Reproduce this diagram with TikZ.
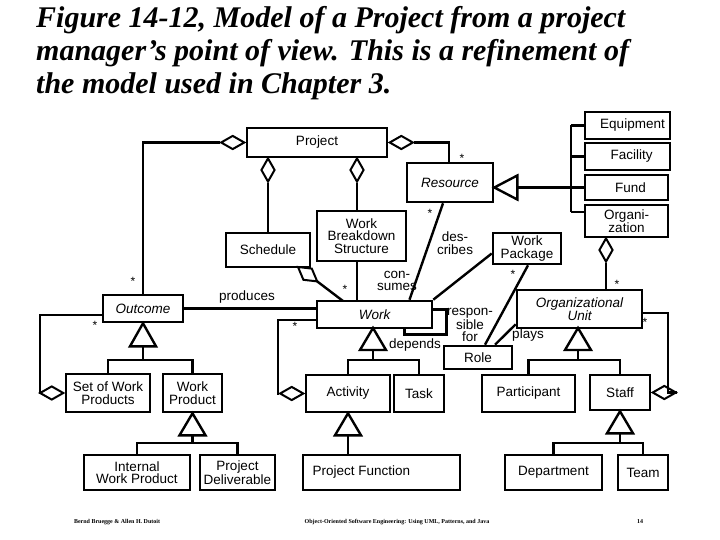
\documentclass[tikz,border=0pt]{standalone}
\usepackage{fontspec}
\setmainfont{Liberation Sans}
\newfontfamily\titlefont{Liberation Serif}
\usetikzlibrary{shapes.geometric,calc}
\begin{document}
\begin{tikzpicture}[x=1pt,y=-1pt,line width=2.4pt,
  box/.style={draw,line width=2.6pt,inner sep=0pt,align=center,font=\fontsize{13.5}{12.5}\selectfont},
  lbl/.style={inner sep=0pt,align=center,font=\fontsize{13.5}{12.5}\selectfont},
  mult/.style={inner sep=0pt,font=\fontsize{12}{12}\selectfont},
  dh/.style={diamond,draw,fill=white,line width=2pt,inner sep=0pt,minimum width=24pt,minimum height=14pt},
  dv/.style={diamond,draw,fill=white,line width=2pt,inner sep=0pt,minimum width=14pt,minimum height=24pt},
  tri/.style={draw,fill=white,line width=2.4pt,line join=miter}]
\useasboundingbox (0,0) rectangle (720,540);
% title
\node[anchor=north west,inner sep=0pt,align=left,font=\titlefont\bfseries\itshape\fontsize{30}{33}\selectfont] (title) at (35,5)
 {Figure 14-12, Model of a Project from a project\\manager’s point of view. This is a refinement of\\the model used in Chapter 3.};
% boxes
\node[box,minimum width=140pt,minimum height=29pt] (project) at (317,142.5) {Project};
\node[box,minimum width=85pt,minimum height=27pt] (equipment) at (627.5,125.5) {\hspace*{10pt}Equipment};
\node[box,minimum width=85pt,minimum height=27pt] (facility) at (627.5,156.5) {\hspace*{8pt}Facility};
\node[box,minimum width=83pt,minimum height=25pt] (fund) at (626.5,187.5) {\hspace*{8pt}Fund};
\node[box,minimum width=83pt,minimum height=32pt] (organization) at (626.5,221) {Organi-\\zation};
\node[box,minimum width=86pt,minimum height=39pt,font=\fontsize{13.5}{12.5}\selectfont\itshape] (resource) at (450,182.5) {Resource};
\node[box,minimum width=84pt,minimum height=34pt] (schedule) at (268,250) {\raisebox{-4pt}{Schedule}};
\node[box,minimum width=89pt,minimum height=50pt] (wbs) at (361.5,236) {Work\\Breakdown\\Structure};
\node[box,minimum width=115pt,minimum height=27pt,font=\fontsize{13.5}{12.5}\selectfont\itshape] (work) at (374.5,314.5) {Work};
\node[box,minimum width=80pt,minimum height=27pt,font=\fontsize{13.5}{12.5}\selectfont\itshape] (outcome) at (143,308.5) {Outcome};
\node[box,minimum width=84pt,minimum height=38pt] (setwp) at (108,393) {Set of Work\\Products};
\node[box,minimum width=59pt,minimum height=38pt] (workproduct) at (192.5,393) {Work\\Product};
\node[box,minimum width=106pt,minimum height=35pt] (iwp) at (137,472.5) {Internal\\Work Product};
\node[box,minimum width=75pt,minimum height=35pt] (pd) at (237.5,472.5) {Project\\Deliverable};
\node[box,minimum width=84pt,minimum height=37pt] (activity) at (348,393.5) {Activity};
\node[box,minimum width=50pt,minimum height=37pt] (task) at (419,393.5) {Task};
\node[box,minimum width=157pt,minimum height=35pt] (pf) at (381.5,472.5) {Project Function\hspace*{40pt}};
\node[box,minimum width=68pt,minimum height=23pt] (role) at (478,357.5) {Role};
\node[box,minimum width=68pt,minimum height=31pt] (wp) at (527,248.5) {Work\\Package};
\node[box,minimum width=125pt,minimum height=38pt,font=\fontsize{13.5}{12.5}\selectfont\itshape] (ou) at (579.5,309) {Organizational\\Unit};
\node[box,minimum width=93pt,minimum height=37pt] (participant) at (528.5,393.5) {Participant};
\node[box,minimum width=60pt,minimum height=35pt] (staff) at (620,392.5) {Staff};
\node[box,minimum width=97pt,minimum height=35pt] (department) at (553.5,472.5) {Department};
\node[box,minimum width=50pt,minimum height=35pt] (team) at (643,472.5) {Team};
% aggregations
\node[dh,anchor=west] (dR) at (project.east) {};
\draw (dR.east) -| ([xshift=-1pt]resource.north);
\node[dh,anchor=east] (dO) at (project.west) {};
\draw (dO.west) -| (outcome.north);
\node[dv,anchor=north] (dS) at (268,157) {};
\draw (dS.south) -- (dS.south |- schedule.north);
\node[dv,anchor=north] (dW) at (357,157) {};
\draw (dW.south) -- (dW.south |- wbs.north);
\draw (357,261) -- (357,301);
\coordinate (dSc) at (317.2,281.4);
\draw (dSc) -- (343,301);
\draw[fill=white,line width=2pt,line join=miter] (298,267) -- (303.4,279.8) -- (dSc) -- (311.8,268.6) -- cycle;
\node[dh,anchor=east] (dA) at (activity.west) {};
\draw (dA.west) -| (278,320) -- (work.west |- 0,320);
\node[dh,anchor=east] (dSW) at (setwp.west) {};
\draw (dSW.west) -| (40,315) -- (outcome.west |- 0,315);
\node[dh,anchor=west] (dSt) at (staff.east) {};
\draw (dSt.east) -| (668,313) -- (ou.east |- 0,313);
\node[dv,anchor=north] (dOrg) at (606,237) {};
\draw (dOrg.south) -- (dOrg.south |- ou.north);
% resource generalization
\draw (571,125.5) -- (equipment.west);
\draw (571,156.5) -- (facility.west);
\draw (571,212) -- (organization.west |- 0,212);
\draw (571,125.5) -- (571,212);
\coordinate (tR) at (resource.east |- fund.west);
\draw ([xshift=23pt]tR) -- (fund.west);
\draw[tri] (tR) -- ++(23,-12) -- ++(0,24) -- cycle;
% generalizations
\coordinate (tOut) at (outcome.south);
\draw (tOut) ++(0,23) -- (143,360);
\draw (setwp.north) |- (workproduct.north |- 0,360) -- (workproduct.north);
\draw[tri] (tOut) -- ++(-13,23) -- ++(26,0) -- cycle;
\coordinate (tWP) at (workproduct.south);
\draw (tWP) ++(0,22) -- (192.5,443);
\draw (iwp.north) |- (pd.north |- 0,443) -- (pd.north);
\draw[tri] (tWP) -- ++(-13,22) -- ++(26,0) -- cycle;
\coordinate (tWk) at (373,328);
\draw (373,350) -- (373,360);
\draw (activity.north) |- (task.north |- 0,360) -- (task.north);
\draw[tri] (tWk) -- ++(-13,22) -- ++(26,0) -- cycle;
\coordinate (tAc) at (activity.south);
\draw (tAc) ++(0,22) -- (pf.north -| activity.south);
\draw[tri] (tAc) -- ++(-13,22) -- ++(26,0) -- cycle;
\coordinate (tOU) at (578,328);
\draw (578,350) -- (578,360);
\draw (participant.north) |- (staff.north |- 0,360) -- (staff.north);
\draw[tri] (tOU) -- ++(-13,22) -- ++(26,0) -- cycle;
\coordinate (tSt) at (staff.south);
\draw (tSt) ++(0,22) -- (620,443);
\draw (department.north) |- (team.north |- 0,443) -- (team.north);
\draw[tri] (tSt) -- ++(-13,22) -- ++(26,0) -- cycle;
% associations
\draw ([xshift=-7pt]resource.south) -- ([xshift=35pt]work.north);
\draw (work.north east) -- ([yshift=-5pt]wp.west);
\draw ([xshift=1pt]wp.south) -- ([xshift=7pt]role.north);
\draw ([xshift=17pt]role.north) -- ([yshift=5pt]ou.south west);
\draw (outcome.east) -- (work.west |- outcome.east);
\draw ([yshift=5pt]work.east) -| ([xshift=13pt,yshift=-20pt]work.east) -| ([xshift=30pt]work.south);
% labels
\node[lbl] (l1) at (247,297) {produces};
\node[lbl] (l2) at (455,243) {des-\\cribes};
\node[lbl] (l3) at (397,281) {con-\\sumes};
\node[lbl] (l4) at (470,325) {respon-\\sible\\for};
\node[lbl] (l5) at (415,345) {depends};
\node[lbl] (l6) at (528,335) {plays};
\node[mult] (m1) at (462,158) {*};
\node[mult] (m2) at (133,281) {*};
\node[mult] (m3) at (95,325) {*};
\node[mult] (m4) at (345,289) {*};
\node[mult] (m5) at (295,326) {*};
\node[mult] (m6) at (430,213) {*};
\node[mult] (m7) at (513,274) {*};
\node[mult] (m8) at (617,284) {*};
\node[mult] (m9) at (645,322) {*};
% footer
\node[inner sep=0pt,font=\titlefont\bfseries\fontsize{6}{6}\selectfont] (f1) at (117,522) {Bernd Bruegge \& Allen H. Dutoit};
\node[inner sep=0pt,font=\titlefont\bfseries\fontsize{6}{6}\selectfont] (f2) at (397,522) {Object-Oriented Software Engineering: Using UML, Patterns, and Java};
\node[inner sep=0pt,font=\titlefont\bfseries\fontsize{6}{6}\selectfont] (f3) at (640,522) {14};
\end{tikzpicture}
\end{document}
